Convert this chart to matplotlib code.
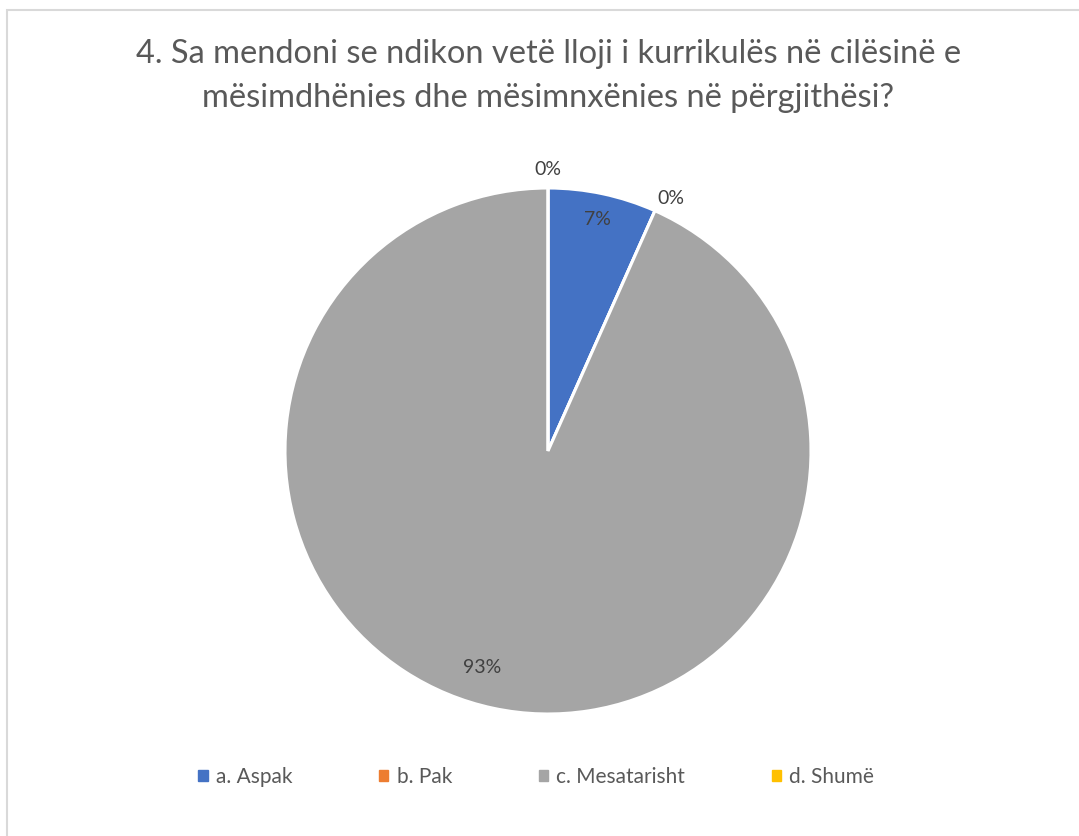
import matplotlib.pyplot as plt
import numpy as np
from matplotlib.patches import Rectangle

categories = ["a. Aspak", "b. Pak", "c. Mesatarisht", "d. Shumë"]
values = [1, 0, 14, 0]
pct_labels = ["7%", "0%", "93%", "0%"]
colors = ["#4472C4", "#ED7D31", "#A5A5A5", "#FFC000"]
title = "4. Sa mendoni se ndikon vetë lloji i kurrikulës në cilësinë e\nmësimdhënies dhe mësimnxënies në përgjithësi?"

plt.rcParams['font.family'] = ['Lato', 'DejaVu Sans']
text_color = "#595959"

W, H = 1079, 836
fig = plt.figure(figsize=(W / 100, H / 100), dpi=100)

# chart border
fig.patches.append(Rectangle((6.5 / W, -0.1), 1.2, (H - 9.5) / H + 0.1,
                             transform=fig.transFigure, fill=False,
                             edgecolor="#D9D9D9", linewidth=1.5))

cx, cy, r = 548, 451, 263
ax = fig.add_axes([(cx - r) / W, (H - cy - r) / H, 2 * r / W, 2 * r / H])
wedges, _ = ax.pie(values, colors=colors, startangle=90, counterclock=False,
                   wedgeprops=dict(edgecolor="white", linewidth=2.2))
ax.set_xlim(-1, 1)
ax.set_ylim(-1, 1)
ax.set_aspect("equal")

# data labels
dists = [0.9, 1.07, 0.86, 1.07]
shifts = [0, -2, -5, 0]
for w, lab, d, s in zip(wedges, pct_labels, dists, shifts):
    ang = np.deg2rad((w.theta1 + w.theta2) / 2 + s)
    if w.theta1 == w.theta2:
        ang = np.deg2rad(w.theta1 + s)
    ax.text(d * np.cos(ang), d * np.sin(ang), lab, ha="center", va="center",
            fontsize=14, color="#404040")

fig.text(0.508, 1 - 76 / H, title, ha="center", va="center", fontsize=23.5,
         color=text_color, linespacing=1.6)

handles = [plt.Rectangle((0, 0), 1, 1, color=c) for c in colors]
fig.legend(handles, categories, loc="center", bbox_to_anchor=(0.497, 1 - 777 / H),
           ncol=4, frameon=False, fontsize=15, handlelength=0.45, handleheight=0.45,
           handletextpad=0.4, columnspacing=4.15, labelcolor=text_color)

fig.savefig("out.png", dpi=100)
